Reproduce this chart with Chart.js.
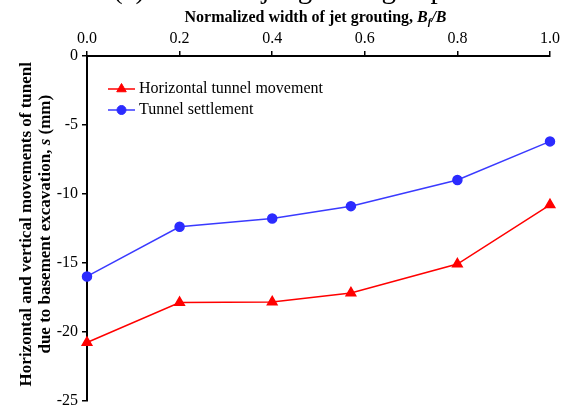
<!DOCTYPE html>
<html>
<head>
<meta charset="utf-8">
<script src="https://cdn.jsdelivr.net/npm/chart.js@4"></script>
<style>
  html, body { margin: 0; padding: 0; background: #fff; }
  #wrap { width: 566px; height: 414px; position: relative; }
</style>
</head>
<body>
<div id="wrap"><canvas id="c" width="566" height="414"></canvas></div>
<script>
// Normalized jet grouting width B_f/B
const widthRatio = [0, 0.2, 0.4, 0.57, 0.8, 1.0];
// Horizontal tunnel movement (mm)
const horizontalMovement = [-20.8, -17.9, -17.85, -17.2, -15.1, -10.8];
// Tunnel settlement (mm)
const tunnelSettlement = [-16.0, -12.4, -11.8, -10.9, -9.0, -6.2];
// Axis tick labels
const xTickLabels = ['0.0', '0.2', '0.4', '0.6', '0.8', '1.0'];
const yTickLabels = ['-25', '-20', '-15', '-10', '-5', '0'];

const seriesNames = ['Horizontal tunnel movement', 'Tunnel settlement'];
const SERIF = '"Liberation Serif", "Times New Roman", serif';

const toPoints = (xs, ys) => xs.map((x, i) => ({ x: x, y: ys[i] }));

// Figure caption, axis titles with mixed styles, and in-plot legend
const annotations = {
  id: 'annotations',
  afterDraw(chart) {
    const ctx = chart.ctx;
    const area = chart.chartArea;
    ctx.save();
    ctx.fillStyle = '#000';

    // caption (runs off the top edge)
    ctx.font = '29px ' + SERIF;
    ctx.textAlign = 'left';
    ctx.textBaseline = 'alphabetic';
    ctx.fillText('(c) Effect of jet grouting depth', 113, -2);

    // x-axis title: "Normalized width of jet grouting, B_f/B"
    const parts = [
      { t: 'Normalized width of jet grouting, ', f: 'bold 16px ' + SERIF, dy: 0 },
      { t: 'B', f: 'italic bold 16px ' + SERIF, dy: 0 },
      { t: 'f', f: 'italic bold 11px ' + SERIF, dy: 3 },
      { t: '/B', f: 'italic bold 16px ' + SERIF, dy: 0 }
    ];
    let total = 0;
    parts.forEach(p => { ctx.font = p.f; p.w = ctx.measureText(p.t).width; total += p.w; });
    let x = (area.left + area.right) / 2 - total / 2 - 3;
    parts.forEach(p => {
      ctx.font = p.f;
      ctx.fillText(p.t, x, 22 + p.dy);
      x += p.w;
    });

    // y-axis title, two rotated lines
    const cy = (area.top + area.bottom) / 2 - 4;
    ctx.save();
    ctx.translate(31, cy);
    ctx.rotate(-Math.PI / 2);
    ctx.textAlign = 'center';
    ctx.font = 'bold 17px ' + SERIF;
    ctx.fillText('Horizontal and vertical movements of tunenl', 0, 0);
    ctx.restore();

    const l2 = [
      { t: 'due to basement excavation, ', f: 'bold 17px ' + SERIF },
      { t: 's', f: 'italic bold 17px ' + SERIF },
      { t: ' (mm)', f: 'bold 17px ' + SERIF }
    ];
    let tw = 0;
    l2.forEach(p => { ctx.font = p.f; p.w = ctx.measureText(p.t).width; tw += p.w; });
    ctx.save();
    ctx.translate(50, cy);
    ctx.rotate(-Math.PI / 2);
    ctx.textAlign = 'left';
    let lx = -tw / 2;
    l2.forEach(p => { ctx.font = p.f; ctx.fillText(p.t, lx, 0); lx += p.w; });
    ctx.restore();

    // legend
    chart.data.datasets.forEach((ds, i) => {
      const ly = 89 + i * 21;
      ctx.strokeStyle = ds.borderColor;
      ctx.lineWidth = 1.5;
      ctx.beginPath();
      ctx.moveTo(108, ly);
      ctx.lineTo(135, ly);
      ctx.stroke();
      ctx.fillStyle = ds.pointBackgroundColor;
      ctx.strokeStyle = ds.pointBorderColor;
      ctx.lineWidth = 1;
      Chart.helpers.drawPoint(ctx, {
        pointStyle: ds.pointStyle,
        radius: ds.pointRadius,
        borderWidth: 1
      }, 121.5, ly);
      ctx.fillStyle = '#000';
      ctx.font = '16px ' + SERIF;
      ctx.textAlign = 'left';
      ctx.textBaseline = 'middle';
      ctx.fillText(ds.label, 139, ly);
    });
    ctx.restore();
  }
};

const chart = new Chart(document.getElementById('c'), {
  type: 'line',
  data: {
    datasets: [
      {
        label: seriesNames[0],
        data: toPoints(widthRatio, horizontalMovement),
        borderColor: '#ff0000',
        backgroundColor: '#ff0000',
        pointBackgroundColor: '#ff0000',
        pointBorderColor: '#ff0000',
        pointStyle: 'triangle',
        pointRadius: 5.5,
        borderWidth: 1.5,
        clip: false
      },
      {
        label: seriesNames[1],
        data: toPoints(widthRatio, tunnelSettlement),
        borderColor: '#3a3aff',
        backgroundColor: '#2b2bff',
        pointBackgroundColor: '#2b2bff',
        pointBorderColor: '#2b2bff',
        pointStyle: 'circle',
        pointRadius: 4.5,
        borderWidth: 1.5,
        clip: false
      }
    ]
  },
  options: {
    responsive: false,
    animation: false,
    layout: { padding: { left: 0, top: 0, right: 16, bottom: 9 } },
    plugins: {
      legend: { display: false },
      tooltip: { enabled: false },
      title: { display: false }
    },
    scales: {
      x: {
        type: 'linear',
        position: 'top',
        min: 0,
        max: 1,
        afterFit(scale) { scale.height = 56; },
        afterBuildTicks(scale) {
          scale.ticks = xTickLabels.map(v => ({ value: parseFloat(v) }));
        },
        ticks: {
          color: '#000',
          font: { family: SERIF, size: 16 },
          padding: 3,
          maxRotation: 0,
          callback: (v, i) => xTickLabels[i]
        },
        grid: {
          display: true,
          drawOnChartArea: false,
          drawTicks: true,
          tickLength: 5,
          color: '#000',
          lineWidth: 1.5
        },
        border: { display: true, color: '#000', width: 2 }
      },
      y: {
        type: 'linear',
        position: 'left',
        min: -25,
        max: 0,
        afterFit(scale) { scale.width = 87; },
        afterBuildTicks(scale) {
          scale.ticks = yTickLabels.map(v => ({ value: parseFloat(v) }));
        },
        ticks: {
          color: '#000',
          font: { family: SERIF, size: 16 },
          padding: 4,
          callback: (v, i) => yTickLabels[i]
        },
        grid: {
          display: true,
          drawOnChartArea: false,
          drawTicks: true,
          tickLength: 5,
          color: '#000',
          lineWidth: 1.5
        },
        border: { display: true, color: '#000', width: 2 }
      }
    }
  },
  plugins: [annotations]
});
</script>
</body>
</html>
